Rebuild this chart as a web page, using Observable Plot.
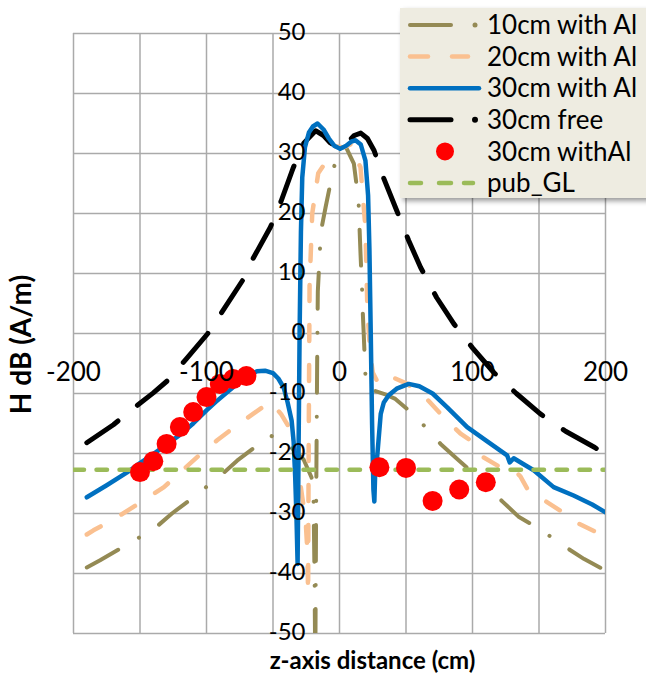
<!DOCTYPE html>
<html>
<head>
<meta charset="utf-8">
<script src="https://cdn.jsdelivr.net/npm/d3@7"></script>
<script src="https://cdn.jsdelivr.net/npm/@observablehq/plot@0.6"></script>
<style>
  html, body { margin: 0; padding: 0; background: #fff; overflow: hidden; }
  #wrap { position: relative; width: 646px; height: 675px; overflow: hidden; font-family: Lato, "Open Sans", sans-serif; }
  #legend { position: absolute; left: 400px; top: 8px; width: 262px; height: 190px; background: #EEECE1; box-shadow: 3px 3px 5px rgba(0,0,0,0.4); }
</style>
</head>
<body>
<div id="wrap"><div id="chart"></div><div id="legend"></div></div>
<script>
// ---------- tick labels / grid ----------
const xTickLabels = [-200, -100, 0, 100, 200];
const xGridValues = [-200, -150, -100, -50, 0, 50, 100, 150, 200];
const yTickLabels = [-50, -40, -30, -20, -10, 0, 10, 20, 30, 40, 50];

// ---------- series names ----------
const seriesNames = ["10cm with Al", "20cm with Al", "30cm with Al", "30cm free", "30cm withAl", "pub_GL"];

// ---------- 10cm with Al ----------
const al10X = [-190,-180,-166,-152,-138,-126,-114,-102,-89.5,-77,-64,-52,-40,-27,-21,-19.5,-18.8,-18.2,-17.6,-16.8,-16.3,-14,-10.5,-4.5,0,5,10.8,14.3,15,15.8,17,17.5,18.2,19.5,22,27,35,42,53,64.7,76,88.5,103.5,113,123,135,150,170,184,200];
const al10Y = [-39,-37.8,-36,-34.2,-32.3,-30,-28,-25.9,-23.7,-21.2,-19,-17,-18.2,-21,-24,-28,-40,-56,-30,-5,7,17,21,27.5,30.6,31,28.3,22.2,18,13.3,7.2,3.5,0,-7,-9.5,-9.6,-10.2,-10.9,-13,-15.6,-18.4,-20.9,-23.9,-26,-28.1,-30.6,-32.5,-35.6,-37.6,-39.5];

// ---------- 20cm with Al ----------
const al20X = [-190,-185,-170,-157,-145,-132,-118,-104,-92,-79,-65,-52,-44,-37,-32,-28,-25.5,-24.2,-23.6,-23.2,-22.5,-20.5,-16,-9,-3,3,9,14,15.8,17.5,19.5,21,23,25,28,31,40,51,66,76,91,98.5,108,121,130,136,142,156,168,180,195,200];
const al20Y = [-33.5,-32.8,-31,-29.2,-27.5,-25.6,-22.8,-20,-17.8,-15.6,-13.4,-11.4,-13.4,-16,-21,-27.3,-31,-36,-43.4,-20,8,20,26.7,29,31.2,31,31.6,28.5,27.7,23,17.7,3.8,-3,-6.5,-7.8,-8.6,-7.3,-8.4,-11,-13.4,-16.7,-17.8,-20.6,-22.3,-22.5,-23.8,-26.2,-28.1,-29.8,-31.7,-33.3,-34.2];

// ---------- 30cm with Al (line) ----------
const al30X = [-190,-175,-160,-150,-140,-130,-120,-110,-100,-93,-85,-78,-70,-62,-56,-50,-46,-42,-39,-36,-34.5,-33.3,-32.3,-31.5,-30.8,-30,-29,-28,-26,-23,-20,-16.5,-12,-8,-4,0.5,5,9,12,16,19.5,21.5,22.5,23.5,24.5,25.5,26.2,27,28.3,31,33.3,37,43,52,60,70,81,96,110,126,128,131,140,146,161,176,190,200];
const al30Y = [-27.3,-25.3,-23.2,-21.6,-20.1,-18.5,-16.9,-15,-12.8,-11.4,-9.9,-8.6,-7.2,-6.3,-6.2,-6.6,-7.5,-9,-11.5,-14.5,-18,-24,-31,-38.4,-20,0,17,26,31,33.5,34.5,35,34,32.5,31.3,30.8,31.3,32,32.2,31.5,28.8,23,14,0,-15,-26,-28,-22,-20.6,-13.4,-11.5,-10.3,-9.2,-8.4,-8.8,-10,-12.3,-15.6,-17.8,-20.3,-21.5,-20.8,-22,-22.8,-25.6,-27,-28.5,-29.8];

// ---------- 30cm free ----------
const freeX = [-190,-170,-155,-140,-129,-115,-99,-91,-73,-67,-52,-44,-35,-27,-18,-12,-7,0,6,11,16,21,26,33,43,52,61,73,86,100,116,133,151,170,192,200];
const freeY = [-18.2,-15.2,-12.5,-9.9,-7.8,-4.2,0,2.7,8.8,11.7,17.7,22,27.5,31.7,33.8,33,31.8,30.8,31.8,33,33.4,32.5,30.5,26,20.5,15.5,11,6,1.6,-2.4,-6.5,-10,-13.4,-16.3,-19,-20.2];

// ---------- 30cm withAl (measured points) ----------
const ptX = [-150,-140,-130,-120,-110,-100,-90,-80,-70,30,50,70,90,110];
const ptY = [-23.1,-21.3,-18.4,-15.6,-13.1,-10.6,-8.4,-7.6,-7.1,-22.3,-22.4,-27.9,-26,-24.8];

// ---------- pub_GL ----------
const glX = [-200, 200];
const glY = [-22.7, -22.7];

// ---------- colors ----------
const colors = ["#948A54", "#FAC090", "#0070C0", "#000000", "#FF0000", "#9BBB59"];

const rows = (xs, ys) => xs.map((x, i) => ({x, y: ys[i]}));

const FONT = "Lato, 'Open Sans', sans-serif";

const chart = Plot.plot({
  width: 646,
  height: 675,
  marginLeft: 73,
  marginRight: 41,
  marginTop: 33,
  marginBottom: 42,
  x: {domain: [-200, 200], axis: null},
  y: {domain: [-50, 50], axis: null},
  style: {fontFamily: FONT, background: "white", color: "black"},
  marks: [
    Plot.gridX(xGridValues, {stroke: "#aaaaaa", strokeOpacity: 1, strokeWidth: 1.5}),
    Plot.gridY(yTickLabels, {stroke: "#aaaaaa", strokeOpacity: 1, strokeWidth: 1.5}),
    Plot.line(rows(freeX, freeY), {x: "x", y: "y", stroke: colors[3], strokeWidth: 5, strokeDasharray: "38,25", strokeLinecap: "round", clip: true}),
    Plot.line(rows(al10X, al10Y), {x: "x", y: "y", stroke: colors[0], strokeWidth: 4, strokeDasharray: "36,24,0.1,24", strokeLinecap: "round", clip: true}),
    Plot.line(rows(al20X, al20Y), {x: "x", y: "y", stroke: colors[1], strokeWidth: 4.5, strokeDasharray: "16,24", strokeLinecap: "round", clip: true}),
    Plot.line(rows(al30X, al30Y), {x: "x", y: "y", stroke: colors[2], strokeWidth: 4.5, strokeLinejoin: "round", clip: true}),
    Plot.line(rows(glX, glY), {x: "x", y: "y", stroke: colors[5], strokeWidth: 4.5, strokeDasharray: "10.5,12.5", strokeLinecap: "round", clip: true}),
    Plot.dot(rows(ptX, ptY), {x: "x", y: "y", r: 10, fill: colors[4], stroke: "none"}),
    Plot.text(xTickLabels, {x: d => d, y: 0, dy: 39, text: d => String(d), fontSize: 26, fill: "black"}),
    Plot.text(yTickLabels, {x: 0, y: d => d, dx: -34, dy: -1.5, text: d => String(d), fontSize: 24, textAnchor: "end", fill: "black"}),
    Plot.text(["z-axis distance (cm)"], {frameAnchor: "bottom", dx: 33, dy: 27.5, text: d => d, fontSize: 24, fontWeight: "bold", fill: "black", textAnchor: "middle", lineAnchor: "middle"}),
    Plot.text(["H dB (A/m)"], {frameAnchor: "left", dx: -51, dy: 11, rotate: -90, text: d => d, fontSize: 28, fontWeight: "bold", fill: "black", textAnchor: "middle", lineAnchor: "middle"})
  ]
});
document.getElementById("chart").appendChild(chart);

// ---------- legend ----------
const lg = d3.select("#legend").append("svg").attr("width", 262).attr("height", 190)
  .style("font-family", FONT);
const rowY = i => 17 + i * 31.6;
seriesNames.forEach((name, i) => {
  const g = lg.append("g").attr("transform", `translate(0,${rowY(i)})`);
  if (i === 0 || i === 3) {
    const w = i === 0 ? 4 : 5;
    g.append("line").attr("x1", 10).attr("x2", 51).attr("y1", 0).attr("y2", 0)
      .attr("stroke", colors[i]).attr("stroke-width", w).attr("stroke-linecap", "round");
    g.append("circle").attr("cx", 75).attr("cy", 0).attr("r", i === 0 ? 2.5 : 3).attr("fill", colors[i]);
  } else if (i === 1) {
    [[10, 28], [52, 68]].forEach(([a, b]) => g.append("line").attr("x1", a).attr("x2", b).attr("y1", 0).attr("y2", 0)
      .attr("stroke", colors[i]).attr("stroke-width", 4.5).attr("stroke-linecap", "round"));
  } else if (i === 2) {
    g.append("line").attr("x1", 10).attr("x2", 79).attr("y1", 0).attr("y2", 0)
      .attr("stroke", colors[i]).attr("stroke-width", 4.5).attr("stroke-linecap", "round");
  } else if (i === 4) {
    g.append("circle").attr("cx", 45).attr("cy", 0).attr("r", 9).attr("fill", colors[i]);
  } else {
    [[10, 21], [39, 51], [64, 73]].forEach(([a, b]) => g.append("line").attr("x1", a).attr("x2", b).attr("y1", 0).attr("y2", 0)
      .attr("stroke", colors[i]).attr("stroke-width", 4.5).attr("stroke-linecap", "round"));
  }
  g.append("text").attr("x", 87).attr("y", 0).attr("dy", "0.35em").attr("font-size", 26).attr("fill", "black").text(name);
});
</script>
</body>
</html>
